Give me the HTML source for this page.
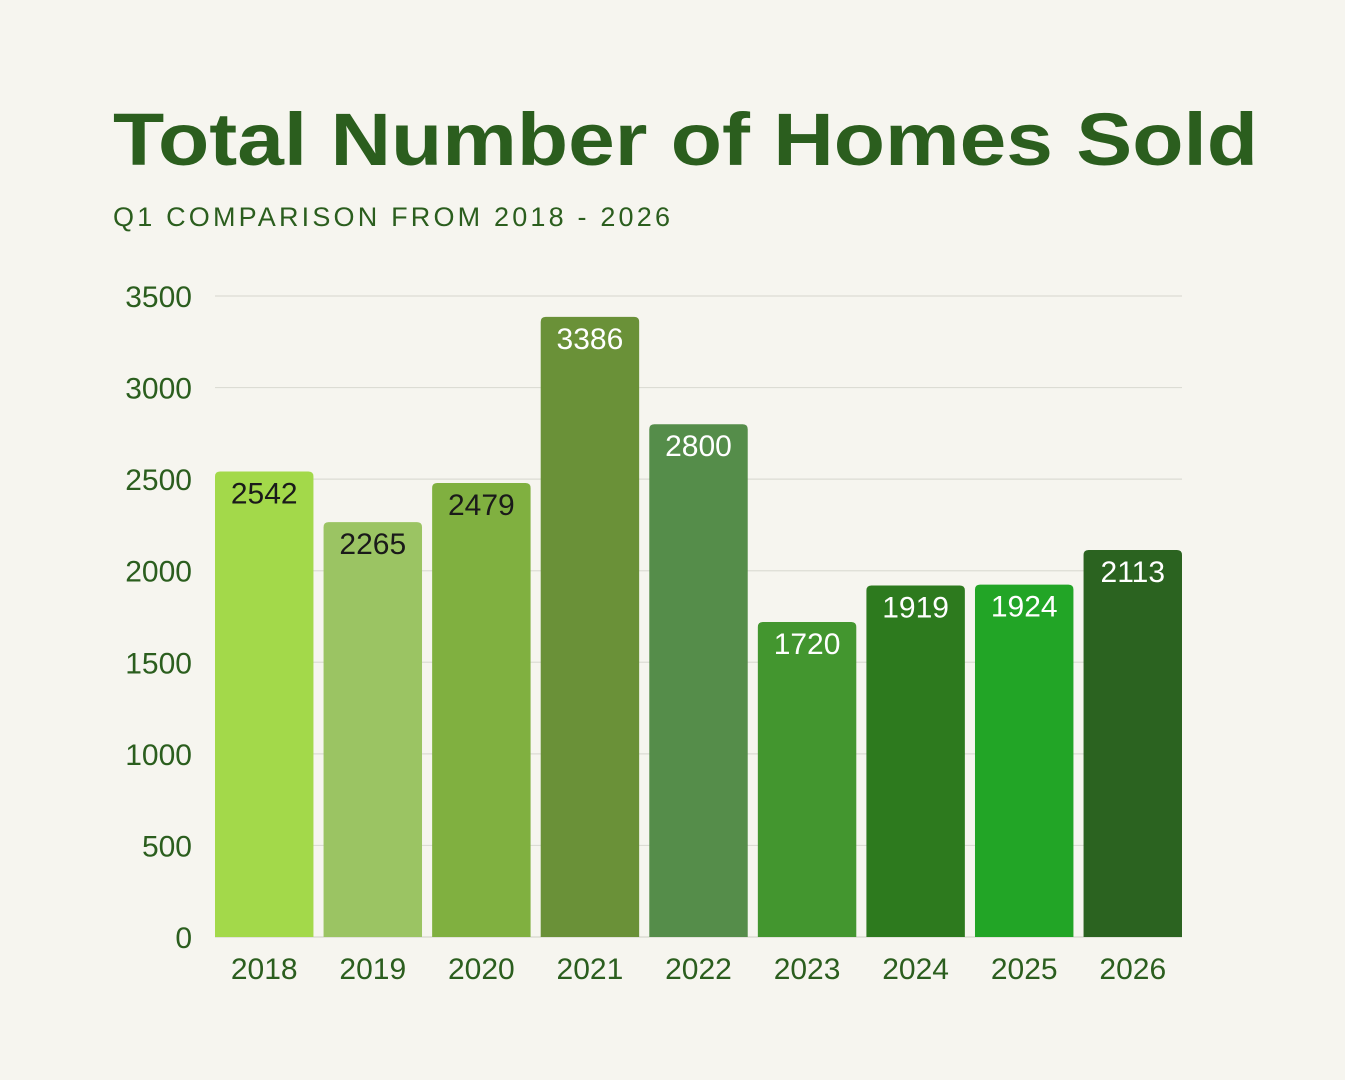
<!DOCTYPE html>
<html><head><meta charset="utf-8"><style>
html,body{margin:0;padding:0;background:#f6f5ef;}
svg{display:block;}
text{font-family:"Liberation Sans",sans-serif;}
</style></head><body>
<svg id="chart" width="1345" height="1080" viewBox="0 0 1345 1080">
<rect width="1345" height="1080" fill="#f6f5ef"/>
<text x="113" y="165" font-size="74" font-weight="bold" fill="#2b5e1e" textLength="1145" lengthAdjust="spacingAndGlyphs">Total Number of Homes Sold</text>
<text x="113" y="226" font-size="27" fill="#2b5e1e" textLength="557" lengthAdjust="spacing">Q1 COMPARISON FROM 2018 - 2026</text>
<g id="grid"></g><g id="bars"></g><g id="axes"></g>
</svg>
<script>
const categories=["2018","2019","2020","2021","2022","2023","2024","2025","2026"];
const values=[2542,2265,2479,3386,2800,1720,1919,1924,2113];
const barColors=["#a3d94a","#9bc463","#80b040","#6a9138","#558d4a","#43962f","#2d7a1e","#22a526","#2b6320"];
const labelColors=["#1a1a1a","#1a1a1a","#1a1a1a","#fff","#fff","#fff","#fff","#fff","#fff"];
const yTicks=[0,500,1000,1500,2000,2500,3000,3500];
const NS="http://www.w3.org/2000/svg";
const x0=215,x1=1182,y0=937,yTop=296,yMax=3500;
const y=v=>y0-(v/yMax)*(y0-yTop);
const pitch=(x1-x0)/categories.length, gap=9, bw=pitch-gap;
const bx=i=>x0+i*pitch+(i===0?0:gap/2)-(i===0?0:0);
function mk(tag,attrs,parent){const e=document.createElementNS(NS,tag);for(const k in attrs)e.setAttribute(k,attrs[k]);document.getElementById(parent).appendChild(e);return e;}
yTicks.forEach(t=>{
  if(t>0){const l=mk('line',{x1:x0,x2:x1,y1:y(t),y2:y(t),stroke:'#dcdcd4','stroke-width':1.2},'grid');
  
  }
  const tx=mk('text',{x:192,y:y(t)+11,'font-size':30,fill:'#2b5e1e','text-anchor':'end'},'axes');
  tx.textContent=t;
  
  
});
categories.forEach((c,i)=>{
  const left=x0+i*pitch+gap/2-4.5*(i===0?1:0)*0, w=bw;
  const xl=x0+i*pitch+(i===0?0:gap/2)- (i===0?0:0);
  const xs=x0+i*((x1-x0-bw)/(categories.length-1));
  const top=y(values[i]);
  const r=mk('path',{d:`M${xs},${y0}V${top+5}Q${xs},${top} ${xs+5},${top}H${xs+bw-5}Q${xs+bw},${top} ${xs+bw},${top+5}V${y0}Z`,fill:barColors[i]},'bars');
  
  
  const lb=mk('text',{x:xs+bw/2,y:top+32,'font-size':30,fill:labelColors[i],'text-anchor':'middle'},'bars');
  lb.textContent=values[i];
  
  
  const xt=mk('text',{x:xs+bw/2,y:979,'font-size':30,fill:'#2b5e1e','text-anchor':'middle'},'axes');
  xt.textContent=c;
  
  
});
const base=mk('line',{x1:x0,x2:x1,y1:y0,y2:y0,stroke:'#cfcfc6','stroke-width':1},'grid');


</script>
</body></html>
